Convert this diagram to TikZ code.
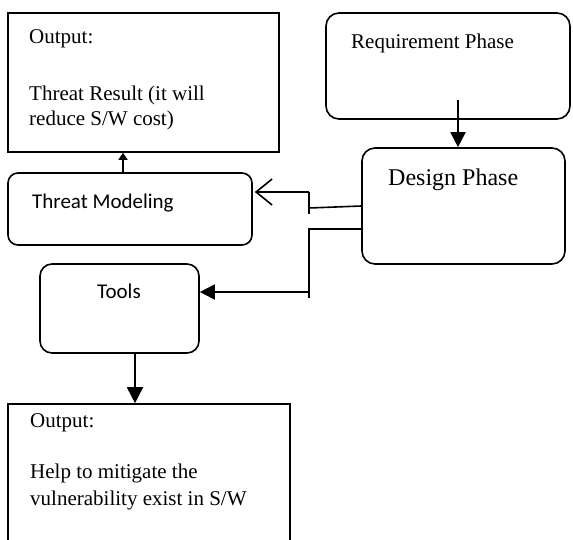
\documentclass[tikz,border=0pt]{standalone}
\usepackage{fontspec}
\setmainfont{Liberation Serif}
\newfontfamily\calibrifont{Carlito}
\usetikzlibrary{arrows.meta}

\begin{document}
\begin{tikzpicture}[x=1pt,y=-1pt]
        \tikzstyle{every node}=[font=\fontsize{21}{25}\selectfont]
        \tikzstyle{box}=[rectangle, draw, line width=1.6pt, inner sep=0pt]
        \tikzstyle{phase}=[box, rounded corners=13pt]
        \tikzstyle{txt}=[anchor=base west, inner sep=0pt, align=left]
        \tikzstyle{line}=[line width=1.6pt]
        \tikzstyle{solidtip}=[line, -{Triangle[length=15pt,width=15pt]}]

        \useasboundingbox (0,0) rectangle (573,539);

        % Nodes
        \node (out1) [box, minimum width=271pt, minimum height=139pt] at (143.5,82.5) {};
        \node (req) [phase, minimum width=244pt, minimum height=106pt] at (448,66) {};
        \node (design) [phase, minimum width=203pt, minimum height=116pt] at (463.5,206) {};
        \node (tm) [box, rounded corners=10pt, minimum width=244pt, minimum height=72pt] at (130,209) {};
        \node (tools) [box, rounded corners=12pt, minimum width=159pt, minimum height=89pt] at (119.5,308.5) {};
        \node (out2) [box, minimum width=282pt, minimum height=138pt] at (149,473) {};

        % Texts (base = last line)
        \node (out1txt) [txt] at (29,125) {Output:\\[32pt]Threat Result (it will\\reduce S/W cost)};
        \node (reqtxt) [txt] at (351,48) {Requirement Phase};
        \node (designtxt) [txt, font=\fontsize{24}{28}\selectfont] at (388,185) {Design Phase};
        \node (tmtxt) [txt, font=\calibrifont\fontsize{21}{25}\selectfont] at (32,208) {Threat Modeling};
        \node (toolstxt) [txt, font=\calibrifont\fontsize{21}{25}\selectfont] at (97,298) {Tools};
        \node (out2txt) [txt, font=\fontsize{21}{27}\selectfont] at (30,505) {Output:\\[24pt]Help to mitigate the\\vulnerability exist in S/W};

        % Points
        \coordinate (reqend) at (458,100);
        \coordinate (tmtop) at (123,173);
        \coordinate (split1) at (309,208);
        \coordinate (tick1) at (309,214);
        \coordinate (turn1) at (309,192);
        \coordinate (split2) at (309,229);
        \coordinate (tick2) at (309,298);
        \coordinate (turn2) at (309,292);
        \coordinate (toolsbot) at (135,353);

        % Edges
        \draw[solidtip] (reqend) -- (reqend |- design.north);
        \draw[line, -{Triangle[length=7pt,width=9pt]}] (tmtop) -- (tmtop |- out1.south);
        \draw[line] (design.west) -- (split1);
        \draw[line] (tick1) -- (turn1);
        \draw[line, -{Straight Barb[length=16pt,width=26pt]}, shorten >=2pt] (turn1) -- (turn1 -| tm.east);
        \draw[line] (split2 -| design.west) -- (split2) -- (tick2);
        \draw[solidtip] (turn2) -- (turn2 -| tools.east);
        \draw[line, -{Triangle[length=16pt,width=16pt]}] (toolsbot) -- (toolsbot |- out2.north);

    \end{tikzpicture}
\end{document}
